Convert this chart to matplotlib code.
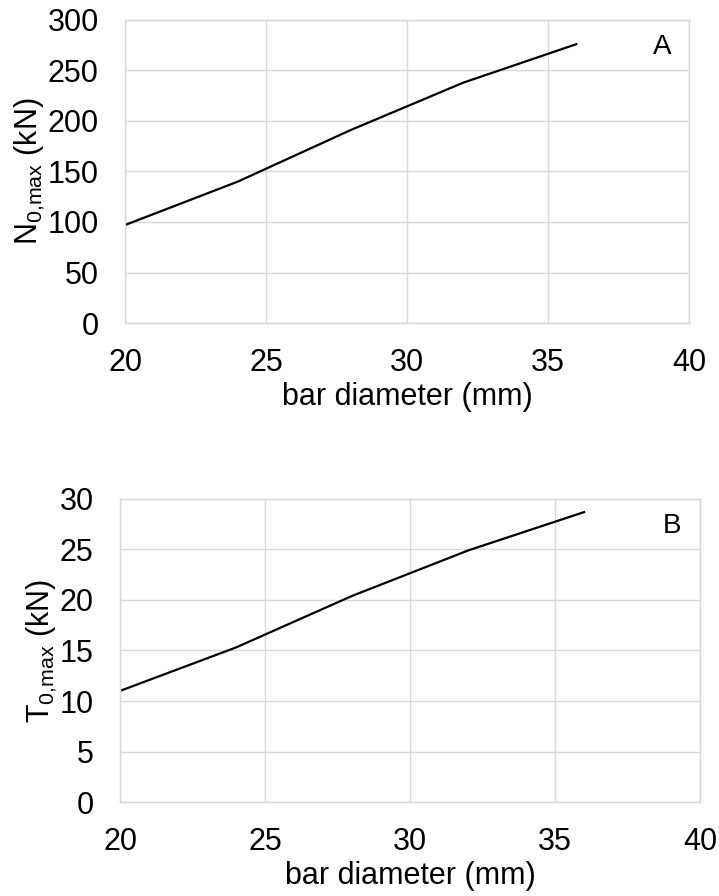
#!/usr/bin/env python3

import matplotlib

matplotlib.use("Agg")
import matplotlib.pyplot as plt

plt.rcParams["font.family"] = ["Liberation Sans", "DejaVu Sans"]
plt.rcParams["mathtext.default"] = "regular"

# bar diameter (mm)
DIAMETERS = [20, 24, 28, 32, 36]
# A: N0,max (kN)
N0_MAX = [97, 140, 191, 238, 276]
# B: T0,max (kN)
T0_MAX = [11.0, 15.3, 20.4, 24.9, 28.7]

X_TICKS = [20, 25, 30, 35, 40]
GRID_COLOR = "#d9d9d9"
FONT_SIZE = 22


def style_axes(ax, ymax, ystep, ylabel, letter):
    ax.set_xlim(20, 40)
    ax.set_ylim(0, ymax)
    ax.set_xticks(X_TICKS)
    ax.set_yticks(range(0, ymax + 1, ystep))
    ax.grid(True, color=GRID_COLOR, linewidth=1.0)
    ax.set_axisbelow(True)
    for spine in ax.spines.values():
        spine.set_color(GRID_COLOR)
        spine.set_linewidth(1.0)
    ax.tick_params(axis="both", length=0, labelsize=FONT_SIZE)
    ax.tick_params(axis="x", pad=18)
    ax.tick_params(axis="y", pad=19)
    ax.set_xlabel("bar diameter (mm)", fontsize=FONT_SIZE, labelpad=3)
    ax.set_ylabel(ylabel, fontsize=FONT_SIZE, labelpad=0)
    ax.text(0.952, 0.91, letter, transform=ax.transAxes, fontsize=FONT_SIZE - 2,
            ha="center", va="center")


fig = plt.figure(figsize=(7.19, 8.96), dpi=100)
ax_a = fig.add_axes([0.1739, 0.6395, 0.7844, 0.3382])
ax_b = fig.add_axes([0.1669, 0.1049, 0.8067, 0.3382])

ax_a.plot(DIAMETERS, N0_MAX, color="black", linewidth=1.6)
style_axes(ax_a, 300, 50, r"N$_{0{,}max}$ (kN)", "A")

ax_b.plot(DIAMETERS, T0_MAX, color="black", linewidth=1.6)
style_axes(ax_b, 30, 5, r"T$_{0{,}max}$ (kN)", "B")

fig.savefig("out.png", dpi=100)
